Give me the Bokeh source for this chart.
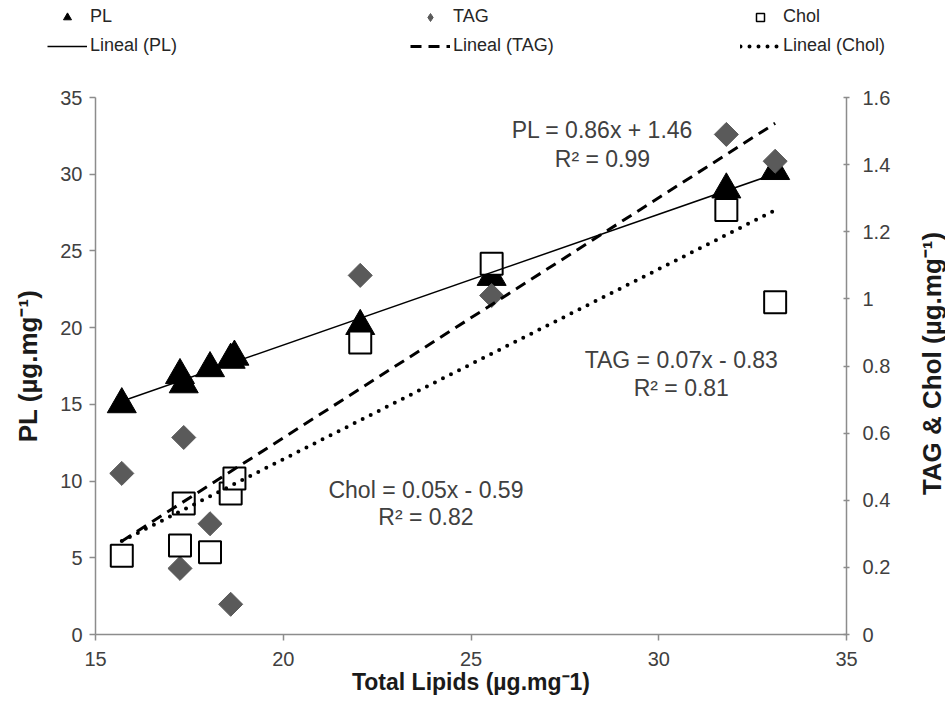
import numpy as np
from bokeh.plotting import figure
from bokeh.layouts import column, row
from bokeh.models import (Range1d, LinearAxis, FixedTicker, Legend, LegendItem,
                          Label, CustomJSTickFormatter)
from bokeh.embed import file_html
from bokeh.resources import INLINE

# ---------------- data ----------------
tl_pl = [15.7, 17.25, 17.35, 18.05, 18.6, 18.7, 22.05, 25.55, 31.8, 33.1]
pl = [15.0, 16.9, 16.3, 17.35, 17.9, 18.1, 20.1, 23.3, 29.0, 30.2]

tl_tag = [15.7, 17.25, 17.35, 18.05, 18.6, 22.05, 25.55, 31.8, 33.1]
tag = [0.48, 0.197, 0.587, 0.33, 0.09, 1.07, 1.01, 1.49, 1.41]

tl_chol = [15.7, 17.25, 17.35, 18.05, 18.6, 18.7, 22.05, 25.55, 31.8, 33.1]
chol = [0.235, 0.265, 0.39, 0.245, 0.42, 0.465, 0.87, 1.105, 1.265, 0.99]

x_ticks = [15, 20, 25, 30, 35]
pl_ticks = [0, 5, 10, 15, 20, 25, 30, 35]
right_ticks = [0, 0.2, 0.4, 0.6, 0.8, 1, 1.2, 1.4, 1.6]

eq_pl = ["PL = 0.86x + 1.46", "R² = 0.99"]
eq_tag = ["TAG = 0.07x - 0.83", "R² = 0.81"]
eq_chol = ["Chol = 0.05x - 0.59", "R² = 0.82"]

FONT = "Liberation Sans"
W = 945
RT_W = 45            # strip holding the right axis title
PW = W - RT_W        # main plot width
LEG_H = 60
H = 645
ML, MR, MT, MB = 95, PW - 846, 97 - LEG_H, H - (634 - LEG_H)


def no_align(fig):
    if "frame_align" in fig.properties():
        fig.frame_align = False


p = figure(width=PW, height=H, x_range=Range1d(15, 35), y_range=Range1d(0, 35),
           output_backend="svg", toolbar_location=None,
           min_border_left=ML, min_border_right=MR, min_border_top=MT, min_border_bottom=MB)
p.extra_y_ranges = {"right": Range1d(0, 1.6)}
p.grid.visible = False
p.outline_line_color = None
p.background_fill_color = "white"
p.border_fill_color = "white"

rax = LinearAxis(y_range_name="right")
p.add_layout(rax, "right")

AX_COL = "#8c8c8c"
for ax in [p.xaxis[0], p.yaxis[0], rax]:
    ax.axis_line_color = AX_COL
    ax.axis_line_width = 1.5
    ax.major_tick_line_color = AX_COL
    ax.major_tick_line_width = 1.5
    ax.minor_tick_line_color = None
    ax.major_label_text_font = FONT
    ax.major_label_text_font_size = "20px"
    ax.major_label_text_color = "#404040"
    ax.axis_label_text_font = FONT
    ax.axis_label_text_font_style = "bold"
    ax.axis_label_text_color = "#1a1a1a"

p.xaxis.ticker = FixedTicker(ticks=x_ticks)
p.yaxis[0].ticker = FixedTicker(ticks=pl_ticks)
rax.ticker = FixedTicker(ticks=right_ticks)
rax.formatter = CustomJSTickFormatter(code="return String(Math.round(tick*10)/10);")

p.xaxis.major_tick_out = 6
p.xaxis.major_tick_in = 0
p.xaxis.major_label_standoff = 11
p.xaxis.axis_label = "Total Lipids (µg.mg⁻1)"
p.xaxis.axis_label_text_font_size = "23px"
p.xaxis.axis_label_standoff = 0

p.yaxis[0].major_tick_out = 6
p.yaxis[0].major_tick_in = 0
p.yaxis[0].major_label_standoff = 7
p.yaxis[0].axis_label = "PL (µg.mg⁻¹)"
p.yaxis[0].axis_label_text_font_size = "26px"
p.yaxis[0].axis_label_standoff = 14

rax.major_tick_out = 3
rax.major_tick_in = 3
rax.major_label_standoff = 13

# ---------------- markers ----------------
MK_PL = dict(marker="triangle", fill_color="black", line_color="black")
MK_CHOL = dict(marker="square", fill_color="white", line_color="black")

r_pl = p.scatter(tl_pl, pl, size=29, **MK_PL)
r_tag = p.scatter(tl_tag, tag, marker="square", angle=np.pi / 4, size=17,
                  fill_color="#5a5a5a", line_color="#5a5a5a", y_range_name="right")
r_chol = p.scatter(tl_chol, chol, size=22, line_width=2, y_range_name="right", **MK_CHOL)


def trend(xs, ys):
    k, b = np.polyfit(xs, ys, 1)
    x0, x1 = min(xs), max(xs)
    return [x0, x1], [k * x0 + b, k * x1 + b]


PL_LINE = dict(line_color="black", line_width=1.5)
TAG_LINE = dict(line_color="black", line_width=3, line_dash="11 7")
CHOL_LINE = dict(line_color="black", line_width=4, line_dash="0 9", line_cap="round")

lx, ly = trend(tl_pl, pl)
p.line(lx, ly, **PL_LINE)
lx, ly = trend(tl_tag, tag)
p.line(lx, ly, y_range_name="right", **TAG_LINE)
lx, ly = trend(tl_chol, chol)
p.line(lx, ly, y_range_name="right", **CHOL_LINE)

# ---------------- equations ----------------
EQ = dict(text_font=FONT, text_font_size="23px", text_color="#404040",
          text_align="center", text_baseline="middle")
p.add_layout(Label(x=28.5, y=32.85, text=eq_pl[0], **EQ))
p.add_layout(Label(x=28.5, y=31.0, text=eq_pl[1], **EQ))
p.add_layout(Label(x=30.6, y=17.86, text=eq_tag[0], **EQ))
p.add_layout(Label(x=30.6, y=16.04, text=eq_tag[1], **EQ))
p.add_layout(Label(x=23.8, y=9.45, text=eq_chol[0], **EQ))
p.add_layout(Label(x=23.8, y=7.63, text=eq_chol[1], **EQ))

# ---------------- right axis title strip (reads bottom-to-top) ----------------
rt = figure(width=RT_W, height=H, x_range=Range1d(0, 1), y_range=Range1d(0, 1),
            output_backend="svg", toolbar_location=None,
            x_axis_location=None, y_axis_location=None, min_border=0)
no_align(rt)
rt.grid.visible = False
rt.outline_line_color = None
rt.background_fill_color = "white"
rt.border_fill_color = "white"
rt.add_layout(Label(x=31, y=H - (363 - LEG_H), x_units="screen", y_units="screen",
                    text="TAG & Chol (µg.mg⁻¹)", angle=np.pi / 2,
                    text_align="center", text_baseline="middle",
                    text_font=FONT, text_font_size="26px", text_font_style="bold",
                    text_color="#1a1a1a"))

# ---------------- legend strip on top ----------------
# the strip's ranges lie outside the data, so its glyphs only show in the legend
lg = figure(width=W, height=LEG_H, x_range=Range1d(0, 1), y_range=Range1d(0, 1),
            output_backend="svg", toolbar_location=None,
            x_axis_location=None, y_axis_location=None, min_border=0)
no_align(lg)
lg.grid.visible = False
lg.outline_line_color = None
lg.background_fill_color = "white"
lg.border_fill_color = "white"

g_pl = lg.scatter(tl_pl, pl, **MK_PL)
g_tag = lg.scatter(tl_tag, tag, marker="diamond", fill_color="#5a5a5a",
                   line_color="#5a5a5a")
g_chol = lg.scatter(tl_chol, chol, line_width=1.5, **MK_CHOL)
g_lpl = lg.line(tl_pl, pl, **PL_LINE)
g_ltag = lg.line(tl_tag, tag, **TAG_LINE)
g_lchol = lg.line(tl_chol, chol, **CHOL_LINE)

LEG = dict(glyph_width=40, glyph_height=20, label_height=20,
           label_standoff=3, spacing=8, padding=0, margin=0,
           border_line_color=None, background_fill_alpha=0,
           label_text_font=FONT, label_text_font_size="18px",
           label_text_color="#262626")
groups = [
    (47, [("PL", g_pl), ("Lineal (PL)", g_lpl)]),
    (410, [("TAG", g_tag), ("Lineal (TAG)", g_ltag)]),
    (740, [("Chol", g_chol), ("Lineal (Chol)", g_lchol)]),
]
for lx0, its in groups:
    lg.add_layout(Legend(items=[LegendItem(label=t, renderers=[r]) for t, r in its],
                         location=(lx0, LEG_H - 56), **LEG))

layout = column(lg, row(p, rt, spacing=0), spacing=0)
open("out.html", "w").write(file_html(layout, INLINE))
